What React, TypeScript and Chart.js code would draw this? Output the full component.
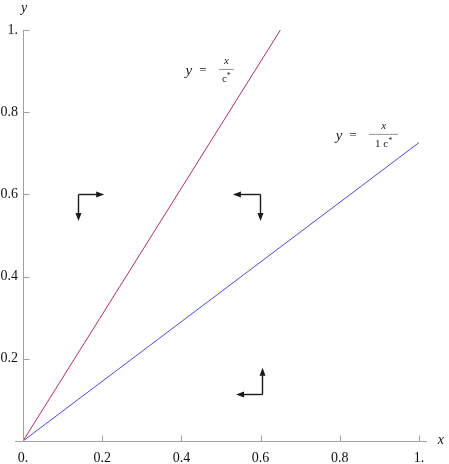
import React, { useEffect, useRef } from 'react';
import { Chart, registerables } from 'chart.js';

Chart.register(...registerables);

// ---- data ----
const xTickValues = [0, 0.2, 0.4, 0.6, 0.8, 1];
const xTickLabels = ['0.', '0.2', '0.4', '0.6', '0.8', '1.'];
const yTickValues = [0, 0.2, 0.4, 0.6, 0.8, 1];
const yTickLabels = ['', '0.2', '0.4', '0.6', '0.8', '1.'];

const redLineX = [0, 0.65];
const redLineY = [0, 1];
const blueLineX = [0, 1];
const blueLineY = [0, 0.726];

// flow-direction arrows: corner point, horizontal arrow end x, vertical arrow end y
const arrowCornerX = [0.139, 0.598, 0.604];
const arrowCornerY = [0.601, 0.601, 0.114];
const arrowHorizEndX = [0.205, 0.53, 0.538];
const arrowVertEndY = [0.535, 0.535, 0.178];

// equation labels (anchor = position of "y")
const labelAnchorX = [0.419, 0.798];
const labelAnchorY = [0.898, 0.74];
const labelNumerators = ['x', 'x'];
const labelDenomPrefix = ['', '1 '];

const RED = '#b0306e';
const BLUE = '#4c4cd6';
const AXIS = '#a0a0a0';
const FONT = '"Liberation Serif", "Times New Roman", serif';

const overlayPlugin = {
  id: 'overlay',
  afterDraw(chart: any) {
    const ctx = chart.ctx as CanvasRenderingContext2D;
    const xs = chart.scales.x;
    const ys = chart.scales.y;
    const px = (v: number) => xs.getPixelForValue(v);
    const py = (v: number) => ys.getPixelForValue(v);
    ctx.save();

    // axes
    ctx.strokeStyle = AXIS;
    ctx.lineWidth = 1;
    const x0 = Math.round(px(0)) + 0.5;
    const y0 = Math.round(py(0)) + 0.5;
    ctx.beginPath();
    ctx.moveTo(px(-0.02), y0);
    ctx.lineTo(px(1.02), y0);
    ctx.moveTo(x0, py(0));
    ctx.lineTo(x0, py(1));
    // ticks (inward)
    xTickValues.forEach((v) => {
      if (v === 0) return;
      const xx = Math.round(px(v)) + 0.5;
      ctx.moveTo(xx, y0);
      ctx.lineTo(xx, y0 - 6);
    });
    yTickValues.forEach((v) => {
      if (v === 0) return;
      const yy = Math.round(py(v)) + 0.5;
      ctx.moveTo(x0, yy);
      ctx.lineTo(x0 + 6, yy);
    });
    ctx.stroke();

    // axis titles
    ctx.fillStyle = '#111';
    ctx.font = `italic 14px ${FONT}`;
    ctx.textAlign = 'center';
    ctx.textBaseline = 'middle';
    ctx.fillText('x', px(1.055), py(0) - 1);
    ctx.fillText('y', px(0.003), py(1.053));

    // arrows
    const arrow = (xa: number, ya: number, xb: number, yb: number) => {
      const ang = Math.atan2(yb - ya, xb - xa);
      const L = 8;
      const W = 3;
      ctx.beginPath();
      ctx.moveTo(xa, ya);
      ctx.lineTo(xb - Math.cos(ang) * (L - 1), yb - Math.sin(ang) * (L - 1));
      ctx.stroke();
      ctx.beginPath();
      ctx.moveTo(xb, yb);
      ctx.lineTo(xb - Math.cos(ang) * L - Math.sin(ang) * W, yb - Math.sin(ang) * L + Math.cos(ang) * W);
      ctx.lineTo(xb - Math.cos(ang) * L + Math.sin(ang) * W, yb - Math.sin(ang) * L - Math.cos(ang) * W);
      ctx.closePath();
      ctx.fill();
    };
    ctx.strokeStyle = '#1a1a1a';
    ctx.fillStyle = '#1a1a1a';
    ctx.lineWidth = 1.4;
    arrowCornerX.forEach((cx, i) => {
      const cxp = Math.round(px(cx)) + 0.5;
      const cyp = Math.round(py(arrowCornerY[i])) + 0.5;
      arrow(cxp, cyp, px(arrowHorizEndX[i]), cyp);
      arrow(cxp, cyp, cxp, py(arrowVertEndY[i]));
    });

    // equation labels
    ctx.fillStyle = '#222';
    labelAnchorX.forEach((ax, i) => {
      const lx = px(ax);
      const ly = py(labelAnchorY[i]);
      ctx.textBaseline = 'middle';
      ctx.textAlign = 'center';
      ctx.font = `italic 15px ${FONT}`;
      ctx.fillText('y', lx, ly - 1);
      ctx.font = `13px ${FONT}`;
      ctx.fillText('=', lx + 14, ly - 1);
      const prefix = labelDenomPrefix[i];
      ctx.font = `11px ${FONT}`;
      const denomW = ctx.measureText(prefix + 'c').width + 4;
      const barW = Math.max(denomW + 6, 14);
      const fcx = lx + 30 + barW / 2 + (prefix ? 3 : 0);
      ctx.font = `italic 11px ${FONT}`;
      ctx.fillText(labelNumerators[i], fcx, ly - 11);
      ctx.strokeStyle = '#777';
      ctx.lineWidth = 0.8;
      ctx.beginPath();
      ctx.moveTo(fcx - barW / 2 - (prefix ? 3 : 0), ly - 2.5);
      ctx.lineTo(fcx + barW / 2 + (prefix ? 3 : 0), ly - 2.5);
      ctx.stroke();
      ctx.textAlign = 'left';
      ctx.font = `11px ${FONT}`;
      const dstart = fcx - denomW / 2;
      ctx.fillText(prefix + 'c', dstart, ly + 7);
      ctx.font = `8px ${FONT}`;
      ctx.fillText('*', dstart + denomW - 4, ly + 4);
    });

    ctx.restore();
  },
};

export default function App() {
  const canvasRef = useRef<HTMLCanvasElement | null>(null);

  useEffect(() => {
    if (!canvasRef.current) return;
    const chart = new Chart(canvasRef.current, {
      type: 'scatter',
      data: {
        datasets: [
          {
            label: 'red',
            data: redLineX.map((x, i) => ({ x, y: redLineY[i] })),
            showLine: true,
            borderColor: RED,
            borderWidth: 1,
            pointRadius: 0,
            fill: false,
          },
          {
            label: 'blue',
            data: blueLineX.map((x, i) => ({ x, y: blueLineY[i] })),
            showLine: true,
            borderColor: BLUE,
            borderWidth: 1,
            pointRadius: 0,
            fill: false,
          },
        ],
      },
      options: {
        animation: false,
        responsive: false,
        layout: { padding: { top: 30, right: 30, left: 0, bottom: 0 } },
        plugins: { legend: { display: false }, tooltip: { enabled: false } },
        scales: {
          x: {
            type: 'linear',
            min: 0,
            max: 1,
            afterFit: (s: any) => { s.height = 23; },
            afterBuildTicks: (s: any) => { s.ticks = xTickValues.map((v) => ({ value: v })); },
            grid: { display: false, drawTicks: false },
            border: { display: false },
            ticks: {
              padding: 9,
              color: '#111',
              font: { family: FONT, size: 14 },
              maxRotation: 0,
              autoSkip: false,
              callback: (v: any) => {
                const i = xTickValues.findIndex((t) => Math.abs(t - Number(v)) < 1e-9);
                return i >= 0 ? xTickLabels[i] : '';
              },
            },
          },
          y: {
            type: 'linear',
            min: 0,
            max: 1,
            afterFit: (s: any) => { s.width = 23; },
            afterBuildTicks: (s: any) => { s.ticks = yTickValues.map((v) => ({ value: v })); },
            grid: { display: false, drawTicks: false },
            border: { display: false },
            ticks: {
              padding: 5,
              color: '#111',
              font: { family: FONT, size: 14 },
              autoSkip: false,
              callback: (v: any) => {
                const i = yTickValues.findIndex((t) => Math.abs(t - Number(v)) < 1e-9);
                return i >= 0 ? yTickLabels[i] : '';
              },
            },
          },
        },
      },
      plugins: [overlayPlugin],
    });
    return () => chart.destroy();
  }, []);

  return (
    <div style={{ position: 'absolute', left: 0, top: 0, width: 449, height: 464, background: '#fff' }}>
      <canvas ref={canvasRef} width={449} height={464} style={{ display: 'block' }} />
    </div>
  );
}
